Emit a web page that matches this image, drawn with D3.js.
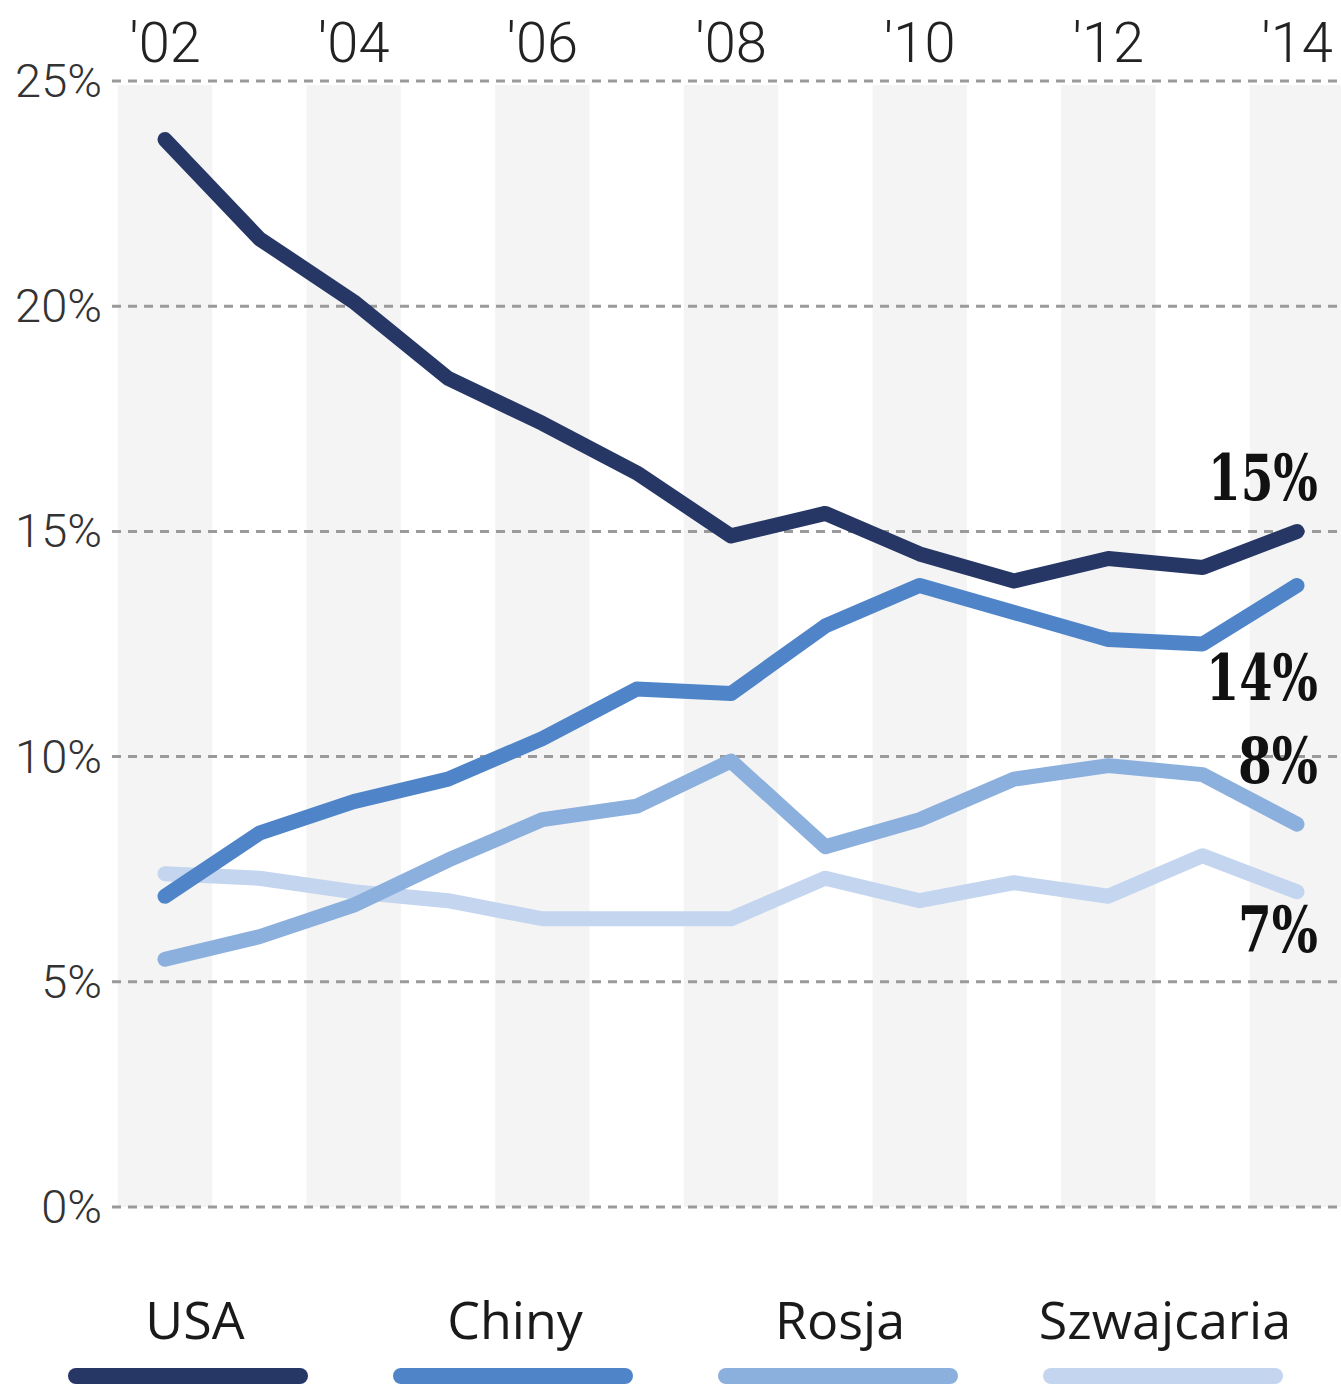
<!DOCTYPE html>
<html>
<head>
<meta charset="utf-8">
<script src="https://cdn.jsdelivr.net/npm/d3@7"></script>
<style>
  body { margin: 0; background: #fff; }
</style>
</head>
<body>
<div id="chart"></div>
<script>
// Data
const years = [2002, 2003, 2004, 2005, 2006, 2007, 2008, 2009, 2010, 2011, 2012, 2013, 2014];
const usa        = [23.7, 21.5, 20.1, 18.4, 17.4, 16.3, 14.9, 15.4, 14.5, 13.9, 14.4, 14.2, 15.0];
const chiny      = [6.9, 8.3, 9.0, 9.5, 10.4, 11.5, 11.4, 12.9, 13.8, 13.2, 12.6, 12.5, 13.8];
const rosja      = [5.5, 6.0, 6.7, 7.7, 8.6, 8.9, 9.9, 8.0, 8.6, 9.5, 9.8, 9.6, 8.5];
const szwajcaria = [7.4, 7.3, 7.0, 6.8, 6.4, 6.4, 6.4, 7.3, 6.8, 7.2, 6.9, 7.8, 7.0];

const seriesNames = ["USA", "Chiny", "Rosja", "Szwajcaria"];
const seriesColors = ["#263766", "#4f85c8", "#8cb0de", "#c3d5ef"];
const endLabels = ["15%", "14%", "8%", "7%"];
const yTicks = [0, 5, 10, 15, 20, 25];
const xTicks = [2002, 2004, 2006, 2008, 2010, 2012, 2014];

const width = 1341, height = 1385;

const svg = d3.select("#chart")
  .append("svg")
    .attr("width", width)
    .attr("height", height);

const x = d3.scaleLinear().domain([2002, 2014]).range([165, 1297]);
const y = d3.scaleLinear().domain([0, 25]).range([1207, 81]);
const step = x(2003) - x(2002);

// gray stripes behind even years
svg.append("g")
  .selectAll("rect")
  .data(xTicks)
  .enter()
  .append("rect")
    .attr("x", d => x(d) - step / 2)
    .attr("y", y(25) + 4)
    .attr("width", step)
    .attr("height", y(0) - y(25) - 4)
    .attr("fill", "#f4f4f4");

// dashed gridlines
svg.append("g")
  .selectAll("line")
  .data(yTicks)
  .enter()
  .append("line")
    .attr("x1", 112)
    .attr("x2", width)
    .attr("y1", d => y(d))
    .attr("y2", d => y(d))
    .attr("stroke", "#9a9a9a")
    .attr("stroke-width", 3)
    .attr("stroke-dasharray", "9,7");

// y labels
svg.append("g")
  .selectAll("text")
  .data(yTicks)
  .enter()
  .append("text")
    .attr("x", 102)
    .attr("y", d => y(d) + 16)
    .attr("text-anchor", "end")
    .attr("font-family", "Roboto")
    .attr("font-weight", 300)
    .attr("font-size", 47)
    .attr("fill", "#333")
    .text(d => d + "%");

// x labels on top
svg.append("g")
  .selectAll("text")
  .data(xTicks)
  .enter()
  .append("text")
    .attr("x", d => x(d))
    .attr("y", 62)
    .attr("text-anchor", "middle")
    .attr("font-family", "Roboto")
    .attr("font-weight", 300)
    .attr("font-size", 56)
    .attr("fill", "#222")
    .text(d => "'" + String(d).slice(2));

const line = d3.line()
  .x((d, i) => x(years[i]))
  .y(d => y(d));

const allSeries = [usa, chiny, rosja, szwajcaria];

// draw lightest first so darker lines sit on top
svg.append("g")
  .selectAll("path")
  .data(allSeries.map((v, i) => ({ values: v, color: seriesColors[i] })).reverse())
  .enter()
  .append("path")
    .attr("d", d => line(d.values))
    .attr("fill", "none")
    .attr("stroke", d => d.color)
    .attr("stroke-width", 15)
    .attr("stroke-linecap", "round")
    .attr("stroke-linejoin", "round");

// end labels, squeezed horizontally to match the condensed slab font
const labelY = [500, 700, 783, 952];
const labelW = [110, 112, 80, 80];
const ends = svg.append("g")
  .selectAll("text")
  .data(endLabels)
  .enter()
  .append("text")
    .attr("x", 0)
    .attr("y", 0)
    .attr("text-anchor", "end")
    .attr("font-family", "'DejaVu Serif', 'Noto Serif', serif")
    .attr("font-weight", "bold")
    .attr("font-size", 64)
    .attr("fill", "#111")
    .text(d => d);

ends.each(function (d, i) {
  const w = this.getComputedTextLength();
  const sx = w > 0 ? labelW[i] / w : 1;
  d3.select(this).attr("transform", "translate(1318," + labelY[i] + ") scale(" + sx + ",1)");
});

// legend
const legendX = d3.scalePoint().domain(seriesNames).range([188, 1163]);
const legend = svg.append("g")
  .selectAll("g")
  .data(seriesNames)
  .enter()
  .append("g")
    .attr("transform", d => "translate(" + legendX(d) + ",0)");

legend.append("text")
  .attr("x", (d, i) => i === 0 ? 7 : 2)
  .attr("y", 1339)
  .attr("text-anchor", "middle")
  .attr("font-family", "Open Sans")
  .attr("font-size", 52)
  .attr("fill", "#1a1a1a")
  .text(d => d);

legend.append("rect")
  .attr("x", -120)
  .attr("y", 1368)
  .attr("width", 240)
  .attr("height", 16)
  .attr("rx", 8)
  .attr("fill", (d, i) => seriesColors[i]);
</script>
</body>
</html>
